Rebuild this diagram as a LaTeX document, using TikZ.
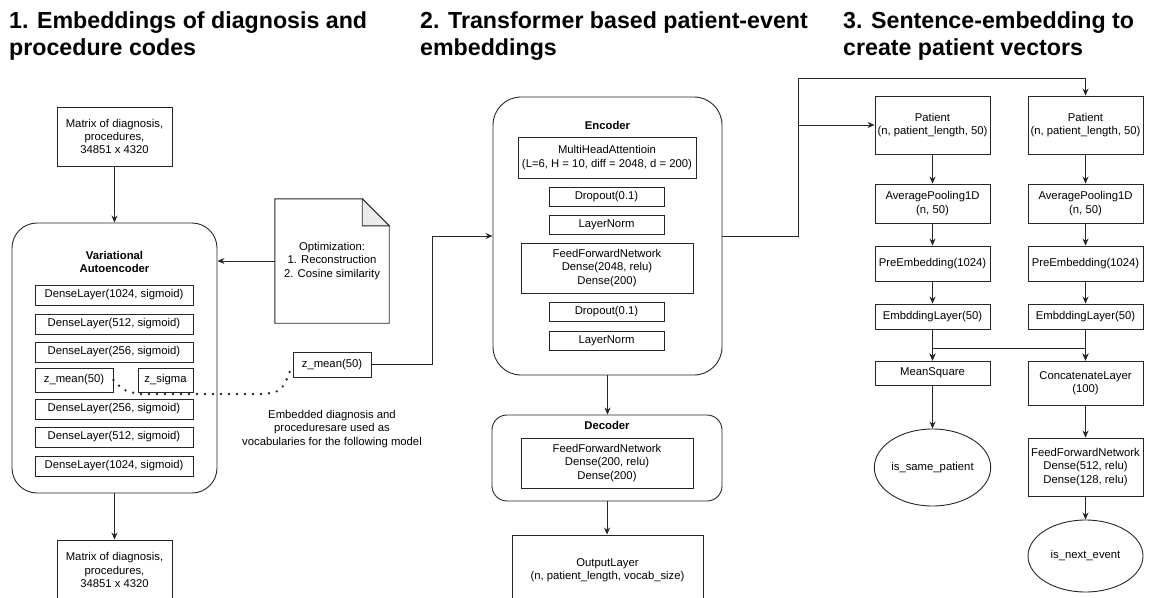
\documentclass[tikz,border=0pt]{standalone}
\usepackage{fontspec}
\setmainfont{Liberation Sans}
\usetikzlibrary{arrows.meta,shapes.geometric}
\begin{document}
\begin{tikzpicture}[x=1pt,y=-1pt,
  every node/.style={font=\fontsize{11.3}{13.4}\selectfont, text=black},
  ln/.style={draw=black!85, line width=0.9pt},
  box/.style={draw=black!85, line width=0.9pt, rectangle, inner sep=0pt, align=center},
  grp/.style={draw=black!85, line width=0.9pt, rectangle, inner sep=0pt},
  arr/.style={draw=black!85, line width=0.9pt, -{Stealth[length=7pt,width=6pt]}},
  ttl/.style={anchor=north west, inner sep=0pt, align=left, font=\fontsize{23.2}{27}\selectfont\bfseries},
  hdr/.style={inner sep=0pt, align=center, font=\fontsize{11.3}{13.4}\selectfont\bfseries},
  plain/.style={inner sep=0pt, align=center},
  dots/.style={draw=black!85, line width=2.6pt, line cap=round, dash pattern=on 0pt off 8pt},
  oval/.style={draw=black!85, line width=0.9pt, ellipse, inner sep=0pt, align=center},
]
\useasboundingbox (0,0) rectangle (1153,597);
\clip (0,0) rectangle (1153,597);

% ---------- titles ----------
\node[ttl] (t1) at (9,11) {1. Embeddings of diagnosis and\\procedure codes};
\node[ttl] (t2) at (420,11) {2. Transformer based patient-event\\embeddings};
\node[ttl] (t3) at (843,11) {3. Sentence-embedding to\\create patient vectors};

% ---------- part 1 ----------
\node[box, minimum width=115pt, minimum height=59pt] (mtop) at (114.5,136.5) {Matrix of diagnosis,\\procedures,\\34851 x 4320};
\node[grp, rounded corners=25pt, minimum width=205pt, minimum height=270pt] (vae) at (114.5,358) {};
\node[hdr] (vaet) at (114.5,262) {Variational\\Autoencoder};
\node[box, minimum width=158pt, minimum height=20pt] (d1) at (114,295) {DenseLayer(1024, sigmoid)};
\node[box, minimum width=158pt, minimum height=20pt] (d2) at (114,324) {DenseLayer(512, sigmoid)};
\node[box, minimum width=158pt, minimum height=20pt] (d3) at (114,352) {DenseLayer(256, sigmoid)};
\node[box, minimum width=78pt, minimum height=24pt] (zm) at (74,380) {z\_mean(50)};
\node[box, minimum width=55pt, minimum height=24pt] (zs) at (165.5,380) {z\_sigma};
\node[box, minimum width=158pt, minimum height=20pt] (d5) at (114,409) {DenseLayer(256, sigmoid)};
\node[box, minimum width=158pt, minimum height=20pt] (d6) at (114,437) {DenseLayer(512, sigmoid)};
\node[box, minimum width=158pt, minimum height=20pt] (d7) at (114,466) {DenseLayer(1024, sigmoid)};
\node[box, minimum width=115pt, minimum height=60pt] (mbot) at (114.5,570) {Matrix of diagnosis,\\procedures,\\34851 x 4320};

\draw[arr] (mtop.south) -- (vae.north);
\draw[arr] (vae.south) -- (mbot.north);

% note
\node[plain, minimum width=114pt, minimum height=124pt] (note) at (332,261) {Optimization:\\1. Reconstruction\\2. Cosine similarity};
\draw[ln] (note.north west) -- ([xshift=-27pt]note.north east) -- ([yshift=-27pt]note.north east) -- (note.south east) -- (note.south west) -- cycle;
\filldraw[ln, fill=black!8] ([xshift=-27pt]note.north east) -- ([xshift=-27pt,yshift=-27pt]note.north east) -- ([yshift=-27pt]note.north east) -- cycle;
\draw[arr] (note.west) -- (note.west -| vae.east);

\node[box, minimum width=78pt, minimum height=25pt] (zm50) at (332,364.5) {z\_mean(50)};
\draw[dots] (zm.east) .. controls (124,391) .. (140,394) -- (262,394) .. controls (282,392) .. (zm50.west);
\node[plain] (emb) at (332,429) {Embedded diagnosis and\\proceduresare used as\\vocabularies for the following model};

\coordinate (j1) at (432,364.5);

% ---------- part 2 ----------
\node[grp, rounded corners=28pt, minimum width=229pt, minimum height=278pt] (enc) at (607.5,236) {};
\node[hdr] (enct) at (607.5,125) {Encoder};
\node[box, minimum width=178pt, minimum height=41pt] (mha) at (607,157.5) {MultiHeadAttentioin\\(L=6, H = 10, diff = 2048, d = 200)};
\node[box, minimum width=115pt, minimum height=19pt] (do1) at (606.5,196.5) {Dropout(0.1)};
\node[box, minimum width=115pt, minimum height=19pt] (ln1) at (606.5,224.5) {LayerNorm};
\node[box, minimum width=172pt, minimum height=50pt] (ffn) at (607,268) {FeedForwardNetwork\\Dense(2048, relu)\\Dense(200)};
\node[box, minimum width=115pt, minimum height=19pt] (do2) at (606.5,311.5) {Dropout(0.1)};
\node[box, minimum width=115pt, minimum height=19pt] (ln2) at (606.5,340.5) {LayerNorm};

\node[grp, rounded corners=15pt, minimum width=230pt, minimum height=86pt] (dec) at (607,458) {};
\node[hdr] (dect) at (607,425) {Decoder};
\node[box, minimum width=172pt, minimum height=50pt] (dffn) at (607,463) {FeedForwardNetwork\\Dense(200, relu)\\Dense(200)};
\node[box, minimum width=191pt, minimum height=70pt] (out) at (607.5,570) {OutputLayer\\(n, patient\_length, vocab\_size)};

\draw[ln] (zm50.east) -- (j1);
\draw[arr] (j1) |- (enc.west);
\draw[arr] (enc.south) -- (enc.south |- dec.north);
\draw[arr] (dec.south) -- (dec.south |- out.north);

% ---------- part 3 ----------
\node[box, minimum width=115pt, minimum height=58pt] (p1) at (932.5,125) {Patient\\(n, patient\_length, 50)};
\node[box, minimum width=115pt, minimum height=58pt] (p2) at (1085.5,125) {Patient\\(n, patient\_length, 50)};
\node[box, minimum width=115pt, minimum height=39pt] (ap1) at (932.5,203.5) {AveragePooling1D\\(n, 50)};
\node[box, minimum width=115pt, minimum height=39pt] (ap2) at (1085.5,203.5) {AveragePooling1D\\(n, 50)};
\node[box, minimum width=115pt, minimum height=35pt] (pe1) at (932.5,263.5) {PreEmbedding(1024)};
\node[box, minimum width=115pt, minimum height=35pt] (pe2) at (1085.5,263.5) {PreEmbedding(1024)};
\node[box, minimum width=115pt, minimum height=25pt] (em1) at (932.5,316.5) {EmbddingLayer(50)};
\node[box, minimum width=115pt, minimum height=25pt] (em2) at (1085.5,316.5) {EmbddingLayer(50)};
\node[box, minimum width=115pt, minimum height=24pt] (ms) at (932.5,373) {MeanSquare};
\node[box, minimum width=115pt, minimum height=44pt] (cc) at (1085.5,383) {ConcatenateLayer\\(100)};
\node[oval, minimum width=115pt, minimum height=77pt] (e1) at (932.5,467.5) {is\_same\_patient};
\node[box, minimum width=115pt, minimum height=58pt] (ffn2) at (1085.5,467) {FeedForwardNetwork\\Dense(512, relu)\\Dense(128, relu)};
\node[oval, minimum width=115pt, minimum height=72pt] (e2) at (1085.5,556) {is\_next\_event};

\coordinate (split) at (798,125);
\draw[ln] (enc.east) -- (enc.east -| split) -- (split);
\draw[arr] (split) -- (p1.west);
\draw[arr] (split) -- (798,78) -| (p2.north);

\draw[arr] (p1) -- (ap1);
\draw[arr] (ap1) -- (pe1);
\draw[arr] (pe1) -- (em1);
\draw[arr] (em1) -- (ms);
\draw[arr] (ms) -- (e1);
\draw[arr] (p2) -- (ap2);
\draw[arr] (ap2) -- (pe2);
\draw[arr] (pe2) -- (em2);
\draw[arr] (em2) -- (cc);
\draw[arr] (cc) -- (ffn2);
\draw[arr] (ffn2) -- (e2);
\draw[arr] (em1.south) -- ++(0,19) -| (cc.north);
\draw[arr] (em2.south) -- ++(0,19) -| (ms.north);
\end{tikzpicture}
\end{document}
